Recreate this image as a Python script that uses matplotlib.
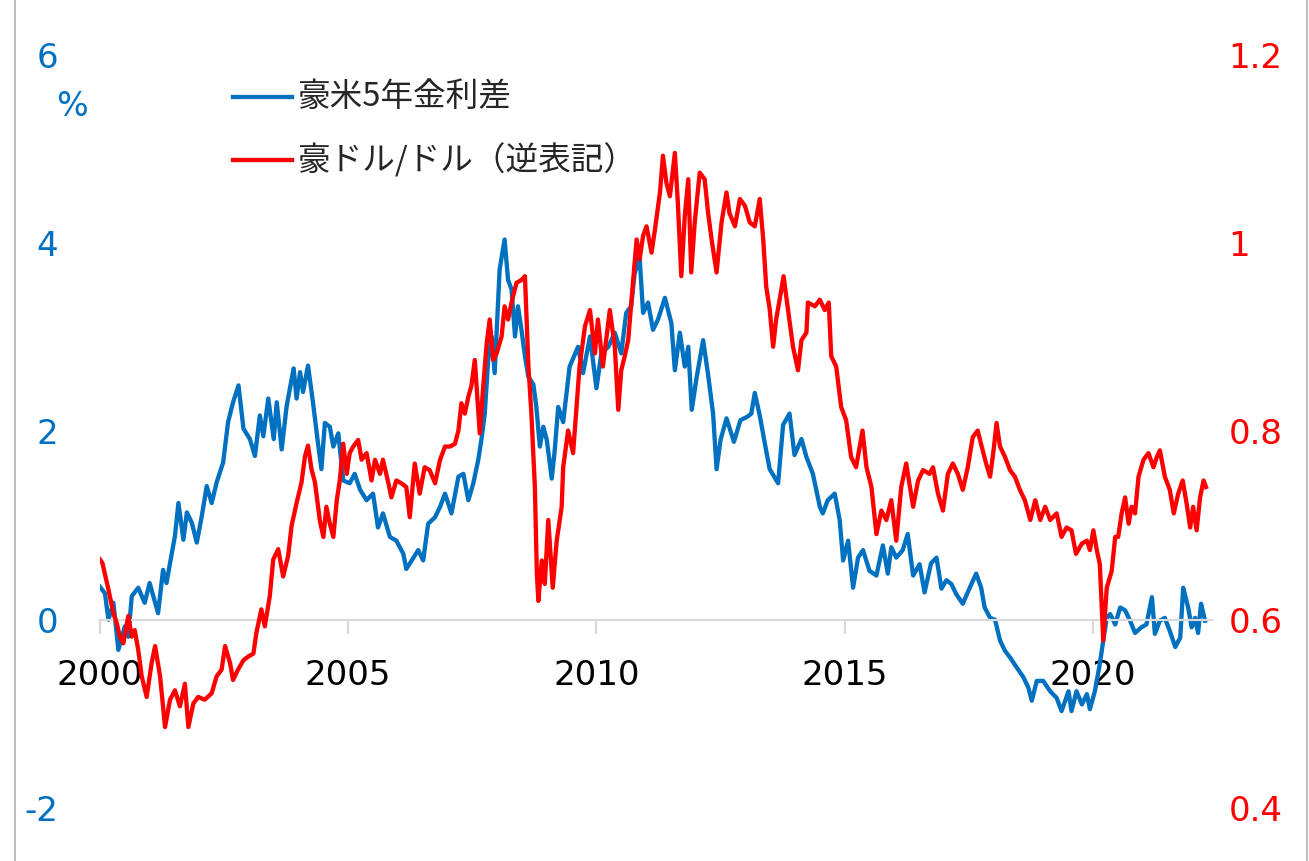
import matplotlib
matplotlib.use("Agg")
import matplotlib.pyplot as plt
from matplotlib.lines import Line2D

plt.rcParams['font.family'] = ['DejaVu Sans', 'Noto Sans CJK JP']

# ---------------- data ----------------
spread_years = [2000.0, 2000.1, 2000.17, 2000.27, 2000.37, 2000.5, 2000.57, 2000.64, 2000.77, 2000.9, 2001.0, 2001.17, 2001.27, 2001.34, 2001.41, 2001.51, 2001.58, 2001.68, 2001.75, 2001.85, 2001.95, 2002.05, 2002.15, 2002.25, 2002.35, 2002.48, 2002.58, 2002.68, 2002.79, 2002.89, 2003.02, 2003.12, 2003.22, 2003.29, 2003.39, 2003.5, 2003.56, 2003.66, 2003.76, 2003.9, 2003.96, 2004.03, 2004.09, 2004.19, 2004.29, 2004.39,
                2004.46, 2004.53, 2004.63, 2004.7, 2004.8, 2004.9, 2005.03, 2005.13, 2005.24, 2005.37, 2005.5, 2005.6, 2005.7, 2005.84, 2005.97, 2006.11, 2006.17, 2006.28, 2006.41, 2006.51, 2006.61, 2006.75, 2006.85, 2006.95, 2007.08, 2007.22, 2007.32, 2007.42, 2007.52, 2007.62, 2007.69, 2007.75, 2007.82, 2007.89, 2007.95, 2008.05, 2008.15, 2008.22, 2008.29, 2008.36, 2008.42, 2008.49, 2008.56, 2008.63, 2008.73, 2008.79, 2008.86, 2008.93,
                2009.0, 2009.1, 2009.16, 2009.23, 2009.33, 2009.46, 2009.63, 2009.73, 2009.87, 2010.0, 2010.1, 2010.24, 2010.37, 2010.5, 2010.6, 2010.7, 2010.77, 2010.87, 2010.94, 2011.04, 2011.14, 2011.24, 2011.38, 2011.51, 2011.58, 2011.68, 2011.78, 2011.85, 2011.92, 2012.02, 2012.15, 2012.25, 2012.35, 2012.42, 2012.5, 2012.62, 2012.77, 2012.9, 2013.05, 2013.12, 2013.19, 2013.29, 2013.39,
                2013.49, 2013.66, 2013.76, 2013.89, 2013.99, 2014.13, 2014.23, 2014.36, 2014.5, 2014.56, 2014.66, 2014.8, 2014.9, 2014.97, 2015.07, 2015.17, 2015.27, 2015.37, 2015.5, 2015.64, 2015.77, 2015.87, 2015.94, 2016.04, 2016.17, 2016.27, 2016.38, 2016.51, 2016.61, 2016.74, 2016.85, 2016.95, 2017.05, 2017.15, 2017.25, 2017.38, 2017.52, 2017.65, 2017.75, 2017.82,
                2017.93, 2018.03, 2018.13, 2018.23, 2018.33, 2018.47, 2018.6, 2018.7, 2018.77, 2018.87, 2019.0, 2019.14, 2019.27, 2019.37, 2019.51, 2019.57, 2019.67, 2019.78, 2019.88, 2019.94, 2020.04, 2020.14, 2020.21, 2020.28, 2020.35, 2020.45, 2020.55, 2020.65, 2020.75, 2020.85, 2020.98, 2021.08, 2021.19, 2021.25, 2021.35, 2021.45, 2021.55, 2021.66, 2021.76, 2021.82, 2021.92, 2021.99, 2022.06, 2022.12, 2022.18, 2022.26]
spread_values = [0.35, 0.28, 0.0, 0.18, -0.32, -0.07, -0.18, 0.25, 0.34, 0.18, 0.39, 0.07, 0.53, 0.39, 0.6, 0.89, 1.24, 0.85, 1.14, 1.03, 0.82, 1.1, 1.42, 1.24, 1.46, 1.67, 2.1, 2.31, 2.49, 2.03, 1.92, 1.74, 2.17, 1.95, 2.35, 1.92, 2.31, 1.81, 2.27, 2.67, 2.35, 2.63, 2.42, 2.7, 2.31, 1.88,
                 1.6, 2.09, 2.05, 1.84, 1.98, 1.48, 1.45, 1.55, 1.38, 1.27, 1.34, 0.98, 1.13, 0.88, 0.84, 0.7, 0.54, 0.63, 0.74, 0.63, 1.02, 1.09, 1.2, 1.34, 1.13, 1.52, 1.55, 1.27, 1.45, 1.7, 1.94, 2.19, 2.76, 3.01, 2.62, 3.72, 4.04, 3.61, 3.51, 3.01, 3.33, 3.08, 2.8, 2.58, 2.5, 2.26, 1.84, 2.05,
                 1.91, 1.5, 1.8, 2.26, 2.1, 2.69, 2.9, 2.62, 3.01, 2.46, 2.83, 2.9, 3.05, 2.83, 3.26, 3.33, 3.68, 3.85, 3.26, 3.37, 3.08, 3.19, 3.42, 3.15, 2.65, 3.05, 2.69, 2.9, 2.23, 2.58, 2.97, 2.6, 2.19, 1.6, 1.91, 2.14, 1.89, 2.12, 2.16, 2.19, 2.41, 2.17, 1.88,
                 1.6, 1.45, 2.07, 2.19, 1.75, 1.92, 1.73, 1.55, 1.2, 1.13, 1.27, 1.34, 1.06, 0.63, 0.84, 0.34, 0.66, 0.74, 0.52, 0.47, 0.79, 0.49, 0.77, 0.66, 0.74, 0.91, 0.47, 0.59, 0.29, 0.6, 0.66, 0.33, 0.42, 0.38, 0.27, 0.17, 0.34, 0.49, 0.34, 0.13,
                 0.02, 0.0, -0.22, -0.33, -0.4, -0.51, -0.61, -0.72, -0.86, -0.65, -0.65, -0.76, -0.83, -0.97, -0.76, -0.97, -0.76, -0.9, -0.79, -0.95, -0.76, -0.47, -0.22, 0.02, 0.06, -0.05, 0.13, 0.1, -0.01, -0.14, -0.08, -0.05, 0.24, -0.15, -0.01, 0.02, -0.12, -0.29, -0.19, 0.34, 0.13, -0.08, 0.02, -0.14, 0.17, -0.01]

fx_years = [2000.0, 2000.05, 2000.17, 2000.27, 2000.34, 2000.4, 2000.47, 2000.57, 2000.64, 2000.7, 2000.77, 2000.84, 2000.94, 2001.04, 2001.11, 2001.21, 2001.31, 2001.41, 2001.51, 2001.61, 2001.71, 2001.78, 2001.88, 2001.98, 2002.11, 2002.25, 2002.35, 2002.45, 2002.52, 2002.62, 2002.68, 2002.78, 2002.89, 2002.99, 2003.09, 2003.15, 2003.25, 2003.32, 2003.42, 2003.49, 2003.59, 2003.69, 2003.79, 2003.86, 2003.96, 2004.06, 2004.13, 2004.19, 2004.26, 2004.33, 2004.43,
            2004.5, 2004.56, 2004.63, 2004.7, 2004.77, 2004.83, 2004.9, 2004.97, 2005.03, 2005.1, 2005.2, 2005.27, 2005.37, 2005.47, 2005.54, 2005.64, 2005.7, 2005.81, 2005.87, 2005.97, 2006.07, 2006.17, 2006.24, 2006.34, 2006.44, 2006.54, 2006.64, 2006.75, 2006.85, 2006.95, 2007.05, 2007.15, 2007.22, 2007.28, 2007.35, 2007.42, 2007.48, 2007.55, 2007.65, 2007.72, 2007.79, 2007.85, 2007.92, 2007.99, 2008.09, 2008.15, 2008.22, 2008.29, 2008.39, 2008.49, 2008.56, 2008.63, 2008.69, 2008.76, 2008.8, 2008.83,
            2008.9, 2008.96, 2009.03, 2009.12, 2009.2, 2009.3, 2009.33, 2009.43, 2009.53, 2009.6, 2009.66, 2009.77, 2009.87, 2009.97, 2010.03, 2010.13, 2010.27, 2010.37, 2010.44, 2010.5, 2010.57, 2010.64, 2010.74, 2010.81, 2010.87, 2010.94, 2011.01, 2011.11, 2011.18, 2011.28, 2011.34, 2011.41, 2011.48, 2011.58, 2011.64, 2011.71, 2011.78, 2011.85, 2011.91, 2011.98, 2012.08, 2012.18, 2012.25, 2012.32, 2012.42, 2012.52, 2012.62, 2012.68, 2012.79, 2012.89, 2012.99, 2013.09, 2013.19, 2013.29, 2013.36, 2013.42,
            2013.49, 2013.56, 2013.62, 2013.69, 2013.77, 2013.86, 2013.96, 2014.06, 2014.13, 2014.23, 2014.26, 2014.4, 2014.5, 2014.6, 2014.68, 2014.73, 2014.83, 2014.93, 2015.03, 2015.13, 2015.23, 2015.36, 2015.44, 2015.54, 2015.64, 2015.74, 2015.84, 2015.94, 2016.04, 2016.14, 2016.24, 2016.38, 2016.48, 2016.58, 2016.71, 2016.78, 2016.88, 2016.98, 2017.08, 2017.18, 2017.28, 2017.38, 2017.48, 2017.58, 2017.68, 2017.78, 2017.85,
            2017.93, 2018.0, 2018.06, 2018.13, 2018.23, 2018.33, 2018.43, 2018.53, 2018.63, 2018.74, 2018.84, 2018.94, 2019.04, 2019.14, 2019.27, 2019.37, 2019.47, 2019.57, 2019.66, 2019.78, 2019.88, 2019.94, 2020.01, 2020.08, 2020.14, 2020.21, 2020.28, 2020.38, 2020.45, 2020.51, 2020.58, 2020.65, 2020.72, 2020.78, 2020.85, 2020.92, 2021.02, 2021.12, 2021.22, 2021.29, 2021.35, 2021.45, 2021.55, 2021.63, 2021.72, 2021.81, 2021.89, 2021.96, 2022.02, 2022.09, 2022.16, 2022.23, 2022.28]
fx_values = [0.664, 0.66, 0.632, 0.607, 0.596, 0.582, 0.575, 0.604, 0.582, 0.589, 0.568, 0.54, 0.518, 0.554, 0.572, 0.54, 0.486, 0.515, 0.525, 0.508, 0.532, 0.486, 0.511, 0.518, 0.515, 0.522, 0.54, 0.547, 0.572, 0.554, 0.536, 0.547, 0.557, 0.561, 0.564, 0.586, 0.611, 0.593, 0.625, 0.664, 0.675, 0.646, 0.668, 0.7, 0.724, 0.746, 0.774, 0.785, 0.76, 0.746, 0.705,
             0.688, 0.72, 0.702, 0.688, 0.727, 0.748, 0.787, 0.755, 0.777, 0.784, 0.791, 0.77, 0.777, 0.748, 0.77, 0.755, 0.77, 0.745, 0.73, 0.748, 0.745, 0.741, 0.709, 0.766, 0.734, 0.762, 0.759, 0.745, 0.77, 0.784, 0.784, 0.787, 0.801, 0.83, 0.819, 0.837, 0.848, 0.876, 0.798, 0.848, 0.894, 0.919, 0.876, 0.883, 0.901, 0.933, 0.919, 0.937, 0.958, 0.961, 0.965, 0.869, 0.819, 0.741, 0.649, 0.62,
             0.663, 0.638, 0.706, 0.634, 0.684, 0.72, 0.762, 0.801, 0.777, 0.826, 0.869, 0.912, 0.929, 0.883, 0.919, 0.869, 0.929, 0.89, 0.823, 0.865, 0.88, 0.897, 0.961, 1.004, 0.983, 1.008, 1.018, 0.99, 1.015, 1.054, 1.093, 1.064, 1.05, 1.096, 1.043, 0.965, 1.029, 1.068, 0.969, 1.022, 1.075, 1.068, 1.032, 1.004, 0.969, 1.022, 1.054, 1.032, 1.018, 1.047, 1.04, 1.022, 1.018, 1.047, 1.004, 0.954,
             0.93, 0.89, 0.919, 0.94, 0.965, 0.929, 0.89, 0.865, 0.897, 0.905, 0.937, 0.933, 0.94, 0.929, 0.937, 0.88, 0.869, 0.826, 0.812, 0.773, 0.762, 0.801, 0.762, 0.741, 0.691, 0.716, 0.706, 0.727, 0.684, 0.741, 0.766, 0.72, 0.748, 0.759, 0.755, 0.762, 0.734, 0.716, 0.755, 0.766, 0.755, 0.738, 0.762, 0.794, 0.801, 0.78, 0.766,
             0.752, 0.78, 0.809, 0.784, 0.773, 0.759, 0.752, 0.738, 0.727, 0.706, 0.727, 0.706, 0.72, 0.706, 0.713, 0.688, 0.698, 0.695, 0.67, 0.681, 0.684, 0.674, 0.695, 0.674, 0.659, 0.578, 0.634, 0.652, 0.688, 0.688, 0.713, 0.73, 0.702, 0.72, 0.713, 0.752, 0.77, 0.777, 0.762, 0.773, 0.78, 0.752, 0.738, 0.713, 0.734, 0.748, 0.723, 0.698, 0.72, 0.695, 0.73, 0.748, 0.741]

x_ticks = [2000, 2005, 2010, 2015, 2020]
left_ticks = [-2, 0, 2, 4, 6]
right_ticks = [0.4, 0.6, 0.8, 1.0, 1.2]
right_labels = ['0.4', '0.6', '0.8', '1', '1.2']
labels = ['豪米5年金利差', '豪ドル/ドル（逆表記）']

BLUE = '#0070C0'
RED = '#FF0000'
W, H = 1309, 861
LW = 3.1

fig = plt.figure(figsize=(W / 100, H / 100), dpi=100)
ax = fig.add_axes([100 / W, 1 - 808 / H, 1112 / W, 753 / H])
ax.set_xlim(2000, 2022.4)
ax.set_ylim(-2, 6)

l1, = ax.plot(spread_years, spread_values, color=BLUE, lw=LW, solid_joinstyle='round')

ax2 = ax.twinx()
ax2.set_ylim(0.4, 1.2)
l2, = ax2.plot(fx_years, fx_values, color=RED, lw=LW, solid_joinstyle='round')

for a in (ax, ax2):
    for s in ('top', 'right', 'left'):
        a.spines[s].set_visible(False)
ax2.spines['bottom'].set_visible(False)
ax.spines['bottom'].set_position(('data', 0))
ax.spines['bottom'].set_color('#d9d9d9')
ax.spines['bottom'].set_linewidth(1.6)

ax.set_xticks(x_ticks)
ax.set_xticklabels([str(t) for t in x_ticks])
ax.tick_params(axis='x', direction='out', length=10, width=1.6, color='#d9d9d9',
               labelsize=24.5, labelcolor='black', pad=18)

ax.set_yticks(left_ticks)
ax.set_yticklabels([str(t) for t in left_ticks])
ax.tick_params(axis='y', length=0, labelsize=24.5, labelcolor=BLUE, pad=30)

ax2.set_yticks(right_ticks)
ax2.set_yticklabels(right_labels)
ax2.tick_params(axis='y', length=0, labelsize=24.5, labelcolor=RED, pad=12)

# "%" unit
fig.text(72 / W, 1 - 107 / H, '%', color=BLUE, fontsize=24, ha='center', va='center')

# manual legend
for lab, line, yc in zip(labels, (l1, l2), (97, 160)):
    fig.add_artist(Line2D([233 / W, 292 / W], [1 - yc / H, 1 - yc / H],
                          transform=fig.transFigure, color=line.get_color(), lw=LW))
    fig.text(297 / W, 1 - yc / H, lab, fontsize=23.5, color='#262626', ha='left', va='center',
             family=['Noto Sans CJK JP', 'DejaVu Sans'])

# chart border
for xb in (15, 1307):
    fig.add_artist(Line2D([xb / W, xb / W], [0, 1], transform=fig.transFigure,
                          color='#bfbfbf', lw=1.5))

fig.savefig('out.png', dpi=100)
